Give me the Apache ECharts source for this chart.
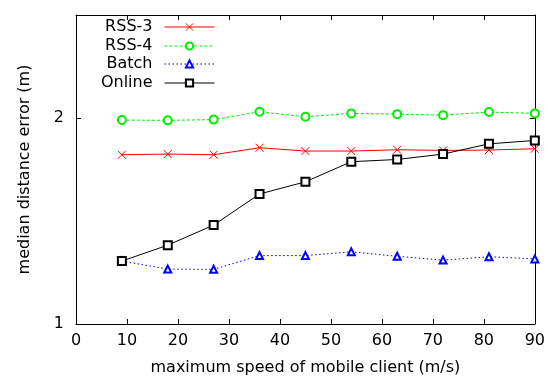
<!DOCTYPE html>
<html>
<head>
<meta charset="utf-8">
<script src="https://cdn.jsdelivr.net/npm/echarts@6/dist/echarts.min.js"></script>
<style>
  html, body { margin: 0; padding: 0; background: #fff; }
  #chart { width: 548px; height: 381px; }
</style>
</head>
<body>
<div id="chart"></div>
<script>
// max speed of the mobile client (m/s)
const speeds = [9, 18, 27, 36, 45, 54, 63, 72, 81, 90];

// median distance error (m)
const rss3 = [1.768, 1.772, 1.768, 1.810, 1.790, 1.790, 1.798, 1.794, 1.796, 1.804];
const rss4 = [1.987, 1.985, 1.990, 2.043, 2.009, 2.032, 2.027, 2.020, 2.041, 2.032];
const batch = [1.236, 1.203, 1.202, 1.259, 1.259, 1.275, 1.256, 1.240, 1.254, 1.245];
const online = [1.236, 1.304, 1.395, 1.549, 1.614, 1.727, 1.740, 1.772, 1.834, 1.855];

const seriesNames = ['RSS-3', 'RSS-4', 'Batch', 'Online'];
const xTicks = [0, 90, 10];
const yRange = [1, 2.83];

const font = 'DejaVu Sans';
const fontSize = 16;

const chart = echarts.init(document.getElementById('chart'));

const pairs = (vals) => speeds.map((s, i) => [s, vals[i]]);

const yLabel = (v) => {
  const r = Math.round(v);
  return Math.abs(v - r) < 1e-6 && (r === 1 || r === 2) ? String(r) : '';
};

const tickStyle = { show: true, inside: true, length: 5, lineStyle: { color: '#000' } };
const lineAxis = { show: true, onZero: false, lineStyle: { color: '#000', width: 1 } };

// one legend per row so the samples line up while labels sit right-aligned
const legendRows = [28, 47, 65, 84];
const legends = seriesNames.map((name, i) => ({
  data: [name],
  right: 333,
  top: legendRows[i] - 9,
  align: 'right',
  padding: 0,
  itemWidth: 50,
  itemHeight: 9,
  lineStyle: { width: 1 },
  itemStyle: { borderWidth: 1 },
  textStyle: { fontFamily: font, fontSize: fontSize, color: '#000', padding: [0, 7, 0, 0] },
}));

const option = {
  animation: false,
  backgroundColor: '#fff',
  textStyle: { fontFamily: font },
  grid: { left: 76, right: 13, top: 15, bottom: 57 },
  legend: legends,
  xAxis: [
    {
      type: 'value',
      min: xTicks[0],
      max: xTicks[1],
      interval: xTicks[2],
      name: 'maximum speed of mobile client (m/s)',
      nameLocation: 'middle',
      nameGap: 36,
      nameTextStyle: { fontFamily: font, fontSize: fontSize, color: '#000' },
      axisLine: lineAxis,
      axisTick: tickStyle,
      axisLabel: { fontFamily: font, fontSize: fontSize, color: '#000', margin: 9 },
      splitLine: { show: false },
    },
    {
      type: 'value',
      position: 'top',
      min: xTicks[0],
      max: xTicks[1],
      interval: xTicks[2],
      axisLine: lineAxis,
      axisTick: tickStyle,
      axisLabel: { show: false },
      splitLine: { show: false },
    },
  ],
  yAxis: [
    {
      type: 'log',
      logBase: 2,
      min: yRange[0],
      max: yRange[1],
      name: 'median distance error (m)',
      nameLocation: 'middle',
      nameGap: 43,
      nameTextStyle: { fontFamily: font, fontSize: fontSize, color: '#000' },
      axisLine: lineAxis,
      axisTick: tickStyle,
      axisLabel: { fontFamily: font, fontSize: fontSize, color: '#000', margin: 12, formatter: yLabel },
      splitLine: { show: false },
    },
    {
      type: 'log',
      logBase: 2,
      position: 'right',
      min: yRange[0],
      max: yRange[1],
      axisLine: lineAxis,
      axisTick: tickStyle,
      axisLabel: { show: false },
      splitLine: { show: false },
    },
  ],
  series: [
    {
      name: 'RSS-3',
      type: 'line',
      data: pairs(rss3),
      symbol: 'path://M0,0L8,8M8,0L0,8',
      symbolSize: 8,
      lineStyle: { color: '#ff0000', width: 1 },
      itemStyle: { color: '#ff0000', borderColor: '#ff0000', borderWidth: 1 },
    },
    {
      name: 'RSS-4',
      type: 'line',
      data: pairs(rss4),
      symbol: 'emptyCircle',
      symbolSize: 8,
      lineStyle: { color: '#00ee00', width: 1, type: [3, 2] },
      itemStyle: { color: '#00ee00', borderWidth: 1 },
    },
    {
      name: 'Batch',
      type: 'line',
      data: pairs(batch),
      symbol: 'emptyTriangle',
      symbolSize: 7,
      lineStyle: { color: '#0000ff', width: 1, type: [1.5, 2.5] },
      itemStyle: { color: '#0000ff', borderWidth: 1 },
    },
    {
      name: 'Online',
      type: 'line',
      data: pairs(online),
      symbol: 'emptyRect',
      symbolSize: 8,
      lineStyle: { color: '#000', width: 1 },
      itemStyle: { color: '#000', borderWidth: 1 },
    },
  ],
};

chart.setOption(option);
</script>
</body>
</html>
